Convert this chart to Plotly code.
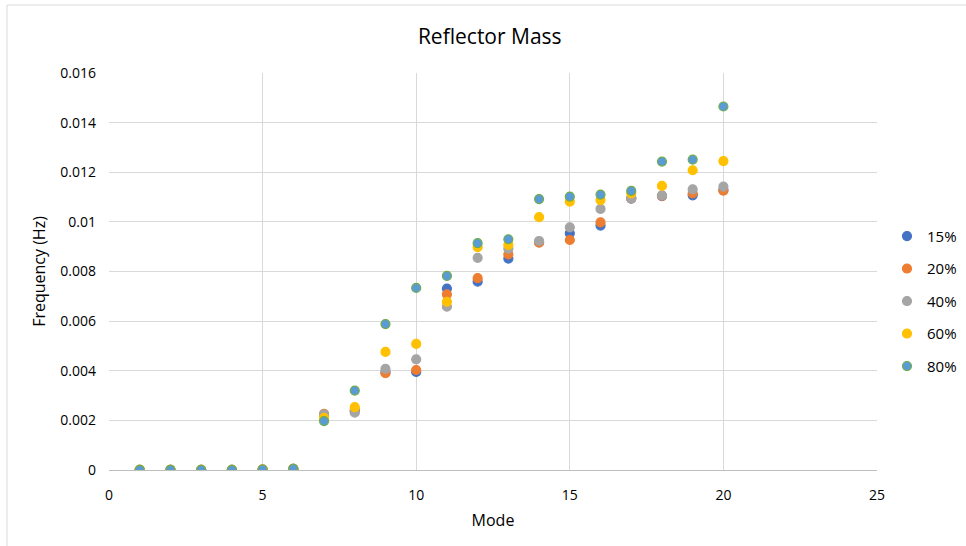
import plotly.graph_objects as go

# Mode numbers and natural frequencies (Hz) for each reflector mass fraction
modes = list(range(1, 21))

freq_15 = [0.000002, 0.000003, 0.000005, 0.000008, 0.00002, 0.00005,
           0.00222, 0.00238, 0.00395, 0.00395, 0.00731, 0.00759,
           0.00852, 0.00918, 0.00954, 0.00985, 0.01094, 0.01104,
           0.01107, 0.01128]
freq_20 = [0.000002, 0.000003, 0.000005, 0.000008, 0.00002, 0.00005,
           0.00226, 0.00242, 0.00390, 0.00403, 0.00708, 0.00773,
           0.00869, 0.00916, 0.00927, 0.00998, 0.01095, 0.01105,
           0.01115, 0.01126]
freq_40 = [0.000002, 0.000003, 0.000005, 0.000008, 0.00002, 0.00005,
           0.00224, 0.00231, 0.00408, 0.00446, 0.00658, 0.00855,
           0.00892, 0.00923, 0.00978, 0.01052, 0.01095, 0.01107,
           0.01131, 0.01142]
freq_60 = [0.000002, 0.000003, 0.000005, 0.000008, 0.00002, 0.00005,
           0.00210, 0.00253, 0.00476, 0.00508, 0.00678, 0.00898,
           0.00907, 0.01019, 0.01082, 0.01088, 0.01115, 0.01145,
           0.01208, 0.01245]
freq_80 = [0.000002, 0.000003, 0.000005, 0.000008, 0.00002, 0.00005,
           0.00197, 0.00320, 0.00588, 0.00734, 0.00782, 0.00914,
           0.00930, 0.01092, 0.01102, 0.01110, 0.01125, 0.01243,
           0.01251, 0.01465]

series_names = ["15%", "20%", "40%", "60%", "80%"]
y_ticks = [0, 0.002, 0.004, 0.006, 0.008, 0.01, 0.012, 0.014, 0.016]
y_tick_text = ["0", "0.002", "0.004", "0.006", "0.008", "0.01", "0.012", "0.014", "0.016"]
x_ticks = [0, 5, 10, 15, 20, 25]

fills = ["#4472C4", "#ED7D31", "#A5A5A5", "#FFC000", "#5B9BD5"]
edges = ["#4472C4", "#ED7D31", "#A5A5A5", "#FFC000", "#70AD47"]

fig = go.Figure()
for name, ys, fc, ec in zip(series_names,
                            [freq_15, freq_20, freq_40, freq_60, freq_80],
                            fills, edges):
    fig.add_trace(go.Scatter(
        x=modes, y=ys, mode="markers", name=name, legendgroup=name,
        marker=dict(size=9, color=fc, line=dict(color=ec, width=1.2)),
    ))

font_family = "Open Sans, Liberation Sans, sans-serif"

fig.update_layout(
    width=966, height=546,
    margin=dict(l=109, r=89, t=73, b=76, autoexpand=False),
    paper_bgcolor="white", plot_bgcolor="white",
    font=dict(family=font_family, color="#000000", size=14),
    title=dict(text="Reflector Mass", x=0.507, xanchor="center",
               y=1 - 37 / 546, yanchor="middle",
               font=dict(size=21, color="#000000")),
    legend=dict(x=0.005, xanchor="left", y=0.425, yanchor="middle",
                font=dict(size=15), itemsizing="trace",
                tracegroupgap=10, itemwidth=30,
                bgcolor="rgba(0,0,0,0)"),
    xaxis=dict(range=[0, 25], tickvals=x_ticks, showgrid=True,
               gridcolor="#D9D9D9", gridwidth=1, zeroline=False,
               showline=True, linecolor="#BFBFBF", linewidth=1,
               ticks="", ticklabelstandoff=12,
               title=dict(text="Mode", font=dict(size=16), standoff=12)),
    yaxis=dict(range=[0, 0.016], tickvals=y_ticks, ticktext=y_tick_text,
               showgrid=True, gridcolor="#D9D9D9", gridwidth=1,
               zeroline=False, showline=False, ticks="",
               ticklabelstandoff=12,
               title=dict(text="Frequency (Hz)", font=dict(size=16), standoff=10)),
    shapes=[dict(type="rect", xref="paper", yref="paper",
                 x0=-102 / 768, x1=1.2, y0=-0.3, y1=1 + 68 / 397,
                 line=dict(color="#D9D9D9", width=1), fillcolor="rgba(0,0,0,0)",
                 layer="below")],
)
# Legend sits just right of the plotting area
fig.update_layout(legend_x=1.013)

fig.write_html("out.html")
